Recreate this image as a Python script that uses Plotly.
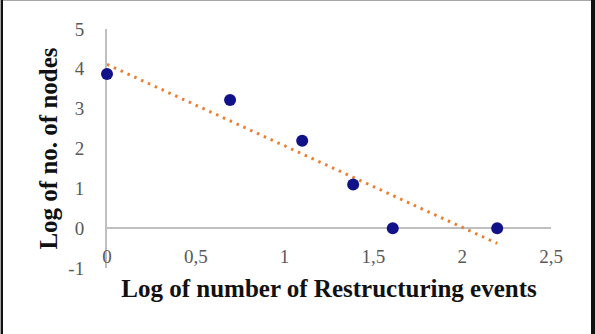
import numpy as np
import plotly.graph_objects as go

# Data (natural logs)
x_vals = [0.0, 0.693, 1.099, 1.386, 1.609, 2.197]
y_vals = [3.871, 3.219, 2.197, 1.099, 0.0, 0.0]
x_ticks = [0, 0.5, 1, 1.5, 2, 2.5]
x_tick_text = ["0", "0,5", "1", "1,5", "2", "2,5"]
y_ticks = [-1, 0, 1, 2, 3, 4, 5]
y_tick_text = ["-1", "0", "1", "2", "3", "4", "5"]

# Linear trendline (least squares, like Excel)
slope, intercept = np.polyfit(x_vals, y_vals, 1)
trend_x = [min(x_vals), max(x_vals)]
trend_y = [intercept + slope * v for v in trend_x]

W, H = 595, 334
L, R, T, B = 107, 44, 29, 66
pw, ph = W - L - R, H - T - B

def px(x):
    return (x - L) / pw

def py(y):
    return (H - B - y) / ph

fig = go.Figure()
fig.add_trace(go.Scatter(
    x=trend_x, y=trend_y, mode="lines",
    line=dict(color="#ED7D31", width=3, dash="2.5px,5px"),
    hoverinfo="skip", cliponaxis=False, showlegend=False))
fig.add_trace(go.Scatter(
    x=x_vals, y=y_vals, mode="markers",
    marker=dict(color="#11118A", size=12),
    cliponaxis=False, showlegend=False))

font_family = "Liberation Serif, DejaVu Serif, serif"

fig.update_layout(
    width=W, height=H,
    margin=dict(l=L, r=R, t=T, b=B),
    paper_bgcolor="white", plot_bgcolor="white",
    font=dict(family=font_family),
    xaxis=dict(
        range=[0, 2.5], tickvals=x_ticks, ticktext=x_tick_text,
        showgrid=False, zeroline=False,
        showline=False, ticks="", anchor="free", position=1/6,
        ticklabelstandoff=15,
        tickfont=dict(size=19, color="#595959", family=font_family),
        title=dict(text="<b>Log of number of Restructuring events</b>",
                   font=dict(size=25, color="#111111", family=font_family),
                   standoff=13),
        fixedrange=True,
    ),
    yaxis=dict(
        range=[-1, 5], tickvals=y_ticks, ticktext=y_tick_text, domain=[0, 1],
        showgrid=False, zeroline=True, zerolinecolor="#BFBFBF", zerolinewidth=2,
        showline=True, linecolor="#BFBFBF", linewidth=2, layer="below traces",
        ticks="",
        ticklabelstandoff=17,
        tickfont=dict(size=19, color="#595959", family=font_family),
        title=dict(text="<b>Log of no. of nodes</b>",
                   font=dict(size=25, color="#111111", family=font_family),
                   standoff=4),
        fixedrange=True,
    ),
    shapes=[
        dict(type="line", xref="paper", yref="paper", x0=px(0), x1=px(W), y0=py(0.5), y1=py(0.5),
             line=dict(color="#A6A6A6", width=1)),
        dict(type="line", xref="paper", yref="paper", x0=px(0.5), x1=px(0.5), y0=py(0), y1=py(H),
             line=dict(color="#A6A6A6", width=1)),
        dict(type="line", xref="paper", yref="paper", x0=px(2), x1=px(2), y0=py(0), y1=py(H),
             line=dict(color="#111111", width=2)),
        dict(type="line", xref="paper", yref="paper", x0=px(593), x1=px(593), y0=py(0), y1=py(H),
             line=dict(color="#111111", width=4)),
    ],
)

fig.write_html("out.html")
